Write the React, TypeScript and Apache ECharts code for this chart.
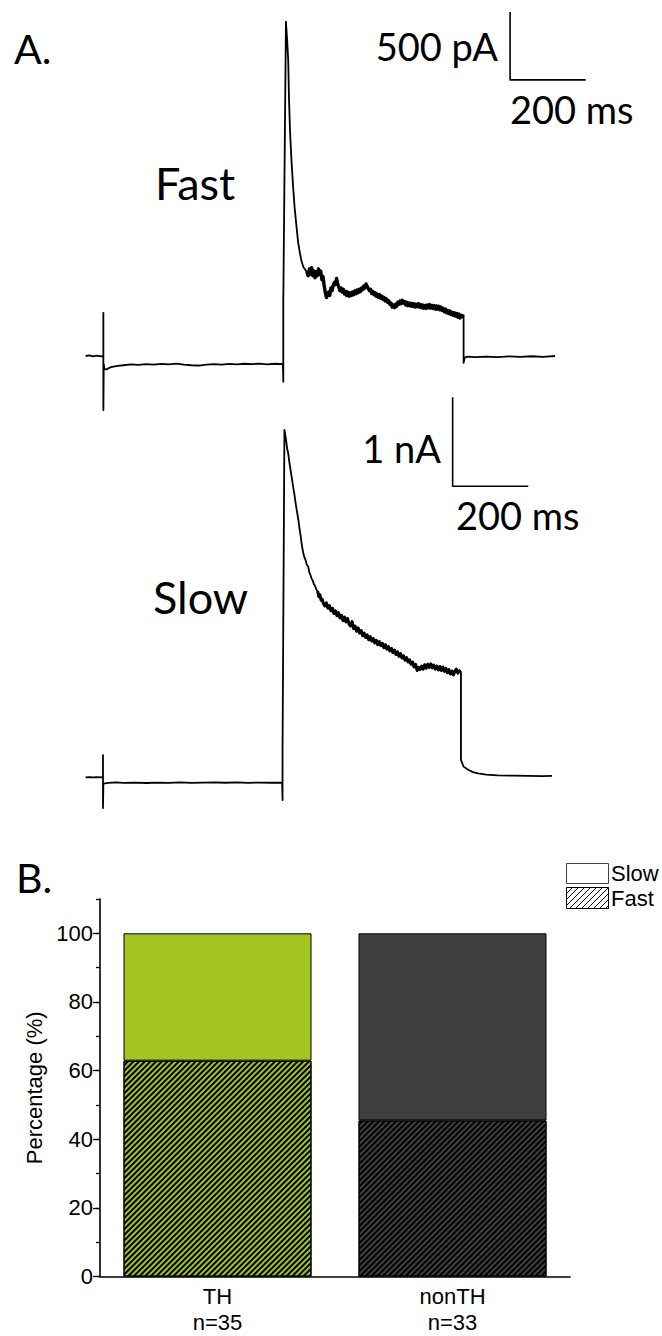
import { useEffect, useRef } from "react";
import * as echarts from "echarts";

// ---------- Panel A: whole-cell current traces, [time (ms), current (pA)] ----------
const FAST_TRACE: [number, number][] = [
  [0, 0], [10, 4], [20, -3], [30, 3], [40, -2], [47, 0],
  [47, 316], [47, -397], [48, -60], [50, -95], [55, -100], [62, -88], [70, -80], [85, -72],
  [100, -68], [120, -62], [140, -66], [160, -60], [180, -64], [200, -58], [220, -62], [240, -56],
  [260, -64], [280, -68], [300, -70], [320, -64], [340, -60], [360, -63], [380, -58], [400, -62],
  [420, -57], [440, -60], [460, -56], [480, -61], [500, -57], [522, -60],
  [523, -190], [523, 400], [530, 2458],
  [533, 2330], [536, 2176], [538, 1900], [541, 1640], [545, 1420], [549, 1243], [553, 1090],
  [558, 949], [562, 840], [567, 757], [571, 700], [576, 654], [580, 640], [585, 618], [589, 590],
  [592, 640], [595, 600], [598, 650], [601, 590], [604, 625], [607, 575], [610, 620], [613, 590],
  [616, 640], [619, 600], [622, 625], [625, 560], [628, 585], [631, 520], [634, 470], [637, 430],
  [640, 450], [643, 470], [646, 445], [649, 500], [652, 480], [655, 520], [658, 540], [661, 525],
  [664, 570], [667, 530], [670, 505], [673, 480], [676, 500], [679, 470], [682, 490], [685, 455],
  [688, 475], [691, 445], [694, 470], [697, 440], [700, 465], [703, 445], [706, 470], [709, 450],
  [712, 478], [715, 458], [718, 485], [721, 465], [724, 490], [727, 475], [730, 500], [733, 488],
  [736, 515], [739, 500], [742, 530], [745, 510], [748, 495], [751, 480], [754, 490], [757, 460],
  [760, 475], [763, 450], [766, 465], [769, 440], [772, 455], [775, 430], [778, 450], [781, 425],
  [784, 440], [787, 415], [790, 430], [793, 405], [796, 420], [799, 395], [802, 405], [805, 380],
  [808, 390], [811, 360], [814, 375], [817, 355], [820, 380], [823, 365], [826, 395], [829, 380],
  [832, 405], [835, 385], [838, 410], [841, 390], [844, 400], [847, 375], [850, 395], [853, 370],
  [856, 390], [859, 368], [862, 388], [865, 365], [868, 385], [871, 360], [874, 380], [877, 362],
  [880, 385], [883, 360], [886, 378], [889, 355], [892, 375], [895, 352], [898, 372], [901, 350],
  [904, 375], [907, 355], [910, 378], [913, 352], [916, 372], [919, 350], [922, 370], [925, 345],
  [928, 368], [931, 345], [934, 365], [937, 340], [940, 360], [943, 335], [946, 350], [949, 325],
  [952, 345], [955, 318], [958, 335], [961, 312], [964, 330], [967, 305], [970, 322], [973, 298],
  [976, 318], [979, 295], [982, 312], [985, 285], [988, 308], [991, 280], [994, 300], [997, 285],
  [1000, 300],
  [1000, -51], [1003, -12], [1010, -5], [1030, -9], [1060, -4], [1090, -8], [1120, -3],
  [1150, -7], [1180, -2], [1210, -6], [1242, 0],
];

const SLOW_TRACE: [number, number][] = [
  [0, 0], [10, 3], [20, -2], [30, 2], [46, 0],
  [46, 250], [46, -345], [47, -70], [60, -62], [80, -58], [100, -62], [130, -60], [160, -64],
  [190, -59], [220, -62], [250, -58], [280, -63], [310, -60], [340, -57], [370, -61], [400, -58],
  [430, -62], [460, -59], [490, -61], [520, -60],
  [521, -255], [521, 300], [526, 3902],
  [530, 3800], [533, 3700], [536, 3640], [539, 3540], [542, 3460], [546, 3350], [549, 3265],
  [552, 3190], [556, 3070], [559, 2990], [563, 2891], [566, 2790], [569, 2710], [572, 2610],
  [576, 2517], [579, 2470], [582, 2440], [585, 2390], [589, 2366], [592, 2300], [595, 2270],
  [598, 2230], [601, 2210], [604, 2170], [607, 2150], [611, 2104], [614, 2090], [617, 2030],
  [620, 2050], [623, 1990], [626, 2000], [629, 1955],
  [633, 1925], [637, 1960], [641, 1900], [645, 1930], [649, 1870], [653, 1900], [657, 1840],
  [661, 1870], [665, 1815], [669, 1850], [673, 1790], [677, 1820], [681, 1760], [685, 1800],
  [689, 1745], [693, 1785], [697, 1720], [701, 1700], [705, 1750], [709, 1670], [713, 1700],
  [717, 1640], [721, 1680], [725, 1620], [729, 1650], [733, 1590], [737, 1620], [741, 1570],
  [745, 1600], [749, 1545], [753, 1580], [757, 1530], [761, 1560], [765, 1510], [769, 1540],
  [773, 1490], [777, 1525], [781, 1480], [785, 1505], [789, 1455], [793, 1490], [797, 1440],
  [801, 1470], [805, 1420], [809, 1450], [813, 1400], [817, 1430], [821, 1380], [825, 1410],
  [829, 1360], [833, 1390], [837, 1340], [841, 1365], [845, 1315], [849, 1345], [853, 1295],
  [857, 1320], [861, 1270], [865, 1295], [869, 1240], [873, 1270], [877, 1200], [881, 1235],
  [885, 1210], [889, 1250], [893, 1215], [897, 1265], [901, 1225], [905, 1270], [909, 1235],
  [913, 1275], [917, 1230], [921, 1260], [925, 1215], [929, 1250], [933, 1205], [937, 1245],
  [941, 1200], [945, 1240], [949, 1190], [953, 1225], [957, 1175], [961, 1210], [965, 1160],
  [969, 1195], [973, 1150], [977, 1190], [981, 1215], [985, 1170], [989, 1205], [993, 1185],
  [993, 195], [1000, 120], [1013, 82], [1025, 58], [1038, 45], [1060, 30], [1090, 22],
  [1130, 18], [1170, 16], [1210, 14], [1234, 15],
];

// Noisy stretch of each sweep (ms), drawn with a heavier stroke
const FAST_NOISY_SPAN = [585, 999];
const SLOW_NOISY_SPAN = [612, 992];

// Scale bars: vertical leg then horizontal leg, in the same units as the traces
const FAST_SCALE_BAR: [number, number][] = [[1123, 2530], [1123, 2030], [1323, 2030]]; // 500 pA / 200 ms
const SLOW_SCALE_BAR: [number, number][] = [[971, 4270], [971, 3270], [1171, 3270]]; // 1 nA / 200 ms

// ---------- Panel B: share of fast / slow cells per group (%) ----------
const GROUPS = ["TH", "nonTH"];
const GROUP_N = [35, 33];
const FAST_PCT = [62.9, 45.5];
const SLOW_PCT = [37.1, 54.5];
const GROUP_COLORS = ["#a3c423", "#404040"];
const Y_TICKS = [0, 20, 40, 60, 80, 100];

// ---------- layout ----------
const W = 662;
const H = 1336;
const SANS_A = "Lato, 'Open Sans', sans-serif";
const SANS_B = "'Liberation Sans', Arial, sans-serif";

const T_RANGE = [0, 1400];
const FAST_RANGE = [-600, 2600];
const SLOW_RANGE = [-600, 4400];
const PX_PER_MS = 0.378;
const TRACE_LEFT = 85.6;
const FAST_ZERO_Y = 356; // pixel row of 0 pA on the fast trace
const FAST_PX_PER_PA = 68 / 500;
const SLOW_ZERO_Y = 777.3;
const SLOW_PX_PER_PA = 89 / 1000;

function traceGrid(zeroY: number, pxPerPa: number, range: number[]) {
  return {
    left: TRACE_LEFT,
    width: (T_RANGE[1] - T_RANGE[0]) * PX_PER_MS,
    top: zeroY - range[1] * pxPerPa,
    height: (range[1] - range[0]) * pxPerPa,
    containLabel: false,
    outerBoundsMode: "none",
  };
}

function hatchLines(x: number, y: number, w: number, h: number, step: number) {
  const out: any[] = [];
  for (let k = -h; k < w; k += step) {
    const v0 = Math.max(0, -k);
    const v1 = Math.min(h, w - k);
    if (v1 <= v0) continue;
    out.push({
      type: "line",
      silent: true,
      shape: { x1: x + v0 + k, y1: y + h - v0, x2: x + v1 + k, y2: y + h - v1 },
      style: { stroke: "#000", lineWidth: 1 },
    });
  }
  return out;
}

function label(text: string, x: number, y: number, size: number, align: string, family = SANS_A) {
  return {
    type: "text",
    x,
    y,
    silent: true,
    style: {
      text,
      fontSize: size,
      fontFamily: family,
      fill: "#000",
      textAlign: align,
      align,
      textVerticalAlign: "middle",
      verticalAlign: "middle",
    },
  };
}

const hatchDecal = {
  symbol: "rect",
  symbolSize: 1,
  color: "#000",
  dashArrayX: [1, 0],
  dashArrayY: [1.3, 1.9],
  rotation: -Math.PI / 4,
};

const within = (data: [number, number][], span: number[]) =>
  data.filter(([t]) => t >= span[0] && t <= span[1]);

export default function App() {
  const ref = useRef<HTMLDivElement>(null);

  useEffect(() => {
    if (!ref.current) return;
    const chart = echarts.init(ref.current, null, { renderer: "svg", width: W, height: H });

    const traceLine = (data: [number, number][], xi: number, yi: number, width: number) => ({
      type: "line",
      xAxisIndex: xi,
      yAxisIndex: yi,
      data,
      showSymbol: false,
      symbol: "none",
      silent: true,
      clip: false,
      lineStyle: { color: "#000", width, join: "round" },
      z: 3,
    });

    const option: any = {
      animation: false,
      backgroundColor: "#fff",
      grid: [
        traceGrid(FAST_ZERO_Y, FAST_PX_PER_PA, FAST_RANGE),
        traceGrid(SLOW_ZERO_Y, SLOW_PX_PER_PA, SLOW_RANGE),
        { left: 100, width: 470, top: 899, height: 377.6, containLabel: false, outerBoundsMode: "none" },
      ],
      xAxis: [
        { type: "value", gridIndex: 0, min: T_RANGE[0], max: T_RANGE[1], show: false },
        { type: "value", gridIndex: 1, min: T_RANGE[0], max: T_RANGE[1], show: false },
        {
          type: "category",
          gridIndex: 2,
          position: "bottom",
          data: GROUPS.map((g, i) => `${g}\nn=${GROUP_N[i]}`),
          axisLine: { lineStyle: { color: "#000", width: 1.6 } },
          axisTick: { alignWithLabel: true, length: 7, lineStyle: { color: "#000", width: 1.3 } },
          axisLabel: {
            color: "#000",
            fontSize: 22,
            lineHeight: 26,
            fontFamily: SANS_B,
            margin: 7,
          },
          splitLine: { show: false },
        },
        {
          type: "category",
          gridIndex: 2,
          position: "bottom",
          data: GROUPS,
          axisLine: { show: false },
          axisTick: { alignWithLabel: false, length: 3.5, lineStyle: { color: "#000", width: 1.3 } },
          axisLabel: { show: false },
          splitLine: { show: false },
        },
      ],
      yAxis: [
        { type: "value", gridIndex: 0, min: FAST_RANGE[0], max: FAST_RANGE[1], show: false },
        { type: "value", gridIndex: 1, min: SLOW_RANGE[0], max: SLOW_RANGE[1], show: false },
        {
          type: "value",
          gridIndex: 2,
          position: "left",
          min: 0,
          max: 110,
          interval: 20,
          name: "Percentage (%)",
          nameLocation: "middle",
          nameGap: 50,
          nameTextStyle: { color: "#000", fontSize: 22, fontFamily: SANS_B },
          axisLine: { show: true, lineStyle: { color: "#000", width: 1.6 } },
          axisTick: { show: true, length: 7, customValues: Y_TICKS, lineStyle: { color: "#000", width: 1.3 } },
          axisLabel: {
            color: "#000",
            fontSize: 22,
            fontFamily: SANS_B,
            margin: 7,
            customValues: Y_TICKS,
            formatter: (v: number) => (v > 100 ? "" : String(v)),
          },
          splitLine: { show: false },
        },
        {
          type: "value",
          gridIndex: 2,
          position: "left",
          min: 0,
          max: 110,
          interval: 10,
          axisLine: { show: false },
          axisTick: { show: true, length: 4, lineStyle: { color: "#000", width: 1.3 } },
          axisLabel: { show: false },
          splitLine: { show: false },
        },
      ],
      series: [
        traceLine(FAST_TRACE, 0, 0, 1.8),
        traceLine(within(FAST_TRACE, FAST_NOISY_SPAN), 0, 0, 3.4),
        traceLine(FAST_SCALE_BAR, 0, 0, 1.6),
        traceLine(SLOW_TRACE, 1, 1, 1.8),
        traceLine(within(SLOW_TRACE, SLOW_NOISY_SPAN), 1, 1, 3),
        traceLine(SLOW_SCALE_BAR, 1, 1, 1.6),
        {
          type: "bar",
          name: "Fast",
          xAxisIndex: 2,
          yAxisIndex: 2,
          stack: "cells",
          barWidth: "80%",
          silent: true,
          data: FAST_PCT.map((v, i) => ({
            value: v,
            itemStyle: { color: GROUP_COLORS[i], borderColor: "#000", borderWidth: 1, decal: hatchDecal },
          })),
        },
        {
          type: "bar",
          name: "Slow",
          xAxisIndex: 2,
          yAxisIndex: 2,
          stack: "cells",
          barWidth: "80%",
          silent: true,
          data: SLOW_PCT.map((v, i) => ({
            value: v,
            itemStyle: { color: GROUP_COLORS[i], borderColor: "#000", borderWidth: 1 },
          })),
        },
      ],
      graphic: [
        label("A.", 14, 48.5, 41, "left"),
        label("500 pA", 498, 46, 38, "right"),
        label("200 ms", 510, 108.5, 38, "left"),
        label("Fast", 155, 183, 45, "left"),
        label("1 nA", 441, 448, 38, "right"),
        label("200 ms", 456, 515, 38, "left"),
        label("Slow", 153, 596.5, 45, "left"),
        label("B.", 16, 877, 41, "left"),
        {
          type: "rect",
          silent: true,
          shape: { x: 566.5, y: 863.5, width: 42, height: 20 },
          style: { fill: "#fff", stroke: "#444", lineWidth: 1 },
        },
        ...hatchLines(566.5, 887.5, 42, 21, 6),
        {
          type: "rect",
          silent: true,
          shape: { x: 566.5, y: 887.5, width: 42, height: 21 },
          style: { fill: "none", stroke: "#000", lineWidth: 1 },
        },
        label("Slow", 611, 873.5, 22, "left", SANS_B),
        label("Fast", 611, 898, 22, "left", SANS_B),
      ],
    };

    chart.setOption(option);
    return () => chart.dispose();
  }, []);

  return (
    <div
      ref={ref}
      style={{ position: "absolute", left: 0, top: 0, width: W, height: H, background: "#fff" }}
    />
  );
}
